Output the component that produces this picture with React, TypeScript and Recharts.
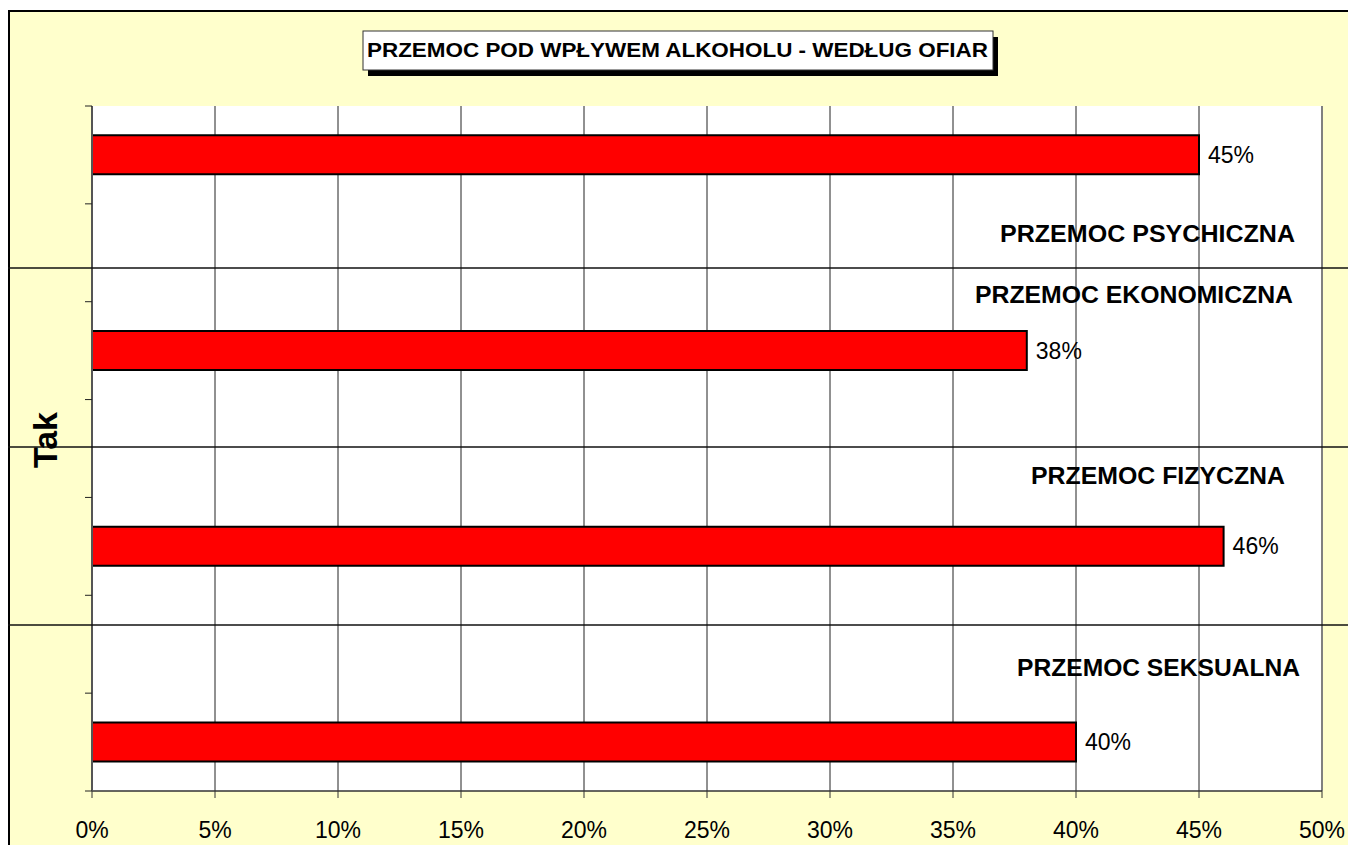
import { Bar, BarChart, CartesianGrid, LabelList, ReferenceLine, XAxis, YAxis } from "recharts";

const categories = [
  "PRZEMOC PSYCHICZNA",
  "PRZEMOC EKONOMICZNA",
  "PRZEMOC FIZYCZNA",
  "PRZEMOC SEKSUALNA",
];
const tak = [45, 38, 46, 40];
const xTicks = [0, 5, 10, 15, 20, 25, 30, 35, 40, 45, 50];
const title = "PRZEMOC POD WPŁYWEM ALKOHOLU - WEDŁUG OFIAR";
const seriesName = "Tak";

const FONT = "Arial, 'Liberation Sans', sans-serif";
const W = 1340;
const H = 835;

// Excel-style layout: every category takes two slots, the bar sits in the first one
const rows = Array.from({ length: categories.length * 2 - 1 }, (_, i) => ({
  slot: `s${i}`,
  value: i % 2 === 0 ? tak[i / 2] : null,
}));

// group label placement (x centre, baseline, width) in the chart box
const groupLabels = [
  { x: 1139.5, y: 232, w: 295 },
  { x: 1126, y: 293, w: 318 },
  { x: 1150, y: 474, w: 254 },
  { x: 1150.5, y: 666, w: 283 },
];
const separators = [258, 437, 615];

// Excel puts the category ticks between the bands, not in their middle
function BoundaryTick(props: any) {
  const { x, y, payload, index, visibleTicksCount } = props;
  const half = payload?.offset ?? 0;
  const last = index === (visibleTicksCount ?? rows.length) - 1;
  return (
    <g>
      <line x1={x - 7} x2={x} y1={y - half} y2={y - half} stroke="#222" />
      {last && <line x1={x - 7} x2={x} y1={y + half} y2={y + half} stroke="#222" />}
    </g>
  );
}

export default function App() {
  return (
    <div
      style={{
        position: "absolute",
        left: 8,
        top: 10,
        width: W,
        height: H,
        background: "#FFFFCC",
        overflow: "hidden",
        fontFamily: FONT,
      }}
    >
      <BarChart
        width={W}
        height={H}
        data={rows}
        layout="vertical"
        barCategoryGap="30%"
        margin={{ top: 96, right: 26, bottom: 14, left: 0 }}
      >
        <CartesianGrid horizontal={false} stroke="#222" fill="#FFFFFF" />
        <XAxis
          type="number"
          domain={[0, 50]}
          ticks={xTicks}
          tickFormatter={(v) => `${v}%`}
          tick={{ fill: "#000", fontSize: 23, fontFamily: FONT }}
          tickSize={7}
          tickMargin={24}
          height={40}
          axisLine={{ stroke: "#333", strokeWidth: 1.5 }}
          tickLine={{ stroke: "#333" }}
          interval={0}
        />
        <XAxis
          xAxisId="top"
          orientation="top"
          type="number"
          domain={[0, 50]}
          height={0}
          tick={false}
          tickLine={false}
          axisLine={{ stroke: "#808080", strokeWidth: 2 }}
        />
        <YAxis
          type="category"
          dataKey="slot"
          width={84}
          tickSize={0}
          tickMargin={0}
          tickLine={false}
          tick={<BoundaryTick />}
          interval={0}
          axisLine={{ stroke: "#555", strokeWidth: 2 }}
        />
        <ReferenceLine x={50} stroke="#808080" strokeWidth={2} />
        <Bar
          dataKey="value"
          name={seriesName}
          fill="#FF0000"
          stroke="#000"
          strokeWidth={2}
          isAnimationActive={false}
        >
          <LabelList
            dataKey="value"
            position="right"
            offset={9}
            formatter={(v: any) => (v == null ? "" : `${v}%`)}
            fill="#000"
            fontSize={23}
            fontFamily={FONT}
          />
        </Bar>
      </BarChart>

      <svg
        width={W}
        height={H}
        style={{ position: "absolute", left: 0, top: 0, pointerEvents: "none" }}
      >
        <line x1={0} y1={1} x2={W} y2={1} stroke="#000" strokeWidth={2} />
        <line x1={1} y1={0} x2={1} y2={H} stroke="#000" strokeWidth={2} />
        {separators.map((y) => (
          <line key={y} x1={0} y1={y} x2={W} y2={y} stroke="#111" strokeWidth={1.5} />
        ))}
        {categories.map((c, i) => (
          <text
            key={c}
            x={groupLabels[i].x}
            y={groupLabels[i].y}
            textAnchor="middle"
            fontFamily={FONT}
            fontWeight="bold"
            fontSize={23.5}
            textLength={groupLabels[i].w}
            lengthAdjust="spacingAndGlyphs"
            fill="#000"
          >
            {c}
          </text>
        ))}
        <text
          x={49}
          y={430}
          transform="rotate(-90 49 430)"
          textAnchor="middle"
          fontFamily={FONT}
          fontWeight="bold"
          fontSize={34}
          fill="#000"
        >
          {seriesName}
        </text>
        <rect x={360} y={27} width={630} height={39} fill="#000" />
        <rect x={355} y={21} width={630} height={39} fill="#FFF" stroke="#333" strokeWidth={1} />
        <text
          x={669.5}
          y={46.7}
          textAnchor="middle"
          fontFamily={FONT}
          fontWeight="bold"
          fontSize={20}
          textLength={621}
          lengthAdjust="spacingAndGlyphs"
          fill="#000"
        >
          {title}
        </text>
      </svg>
    </div>
  );
}
